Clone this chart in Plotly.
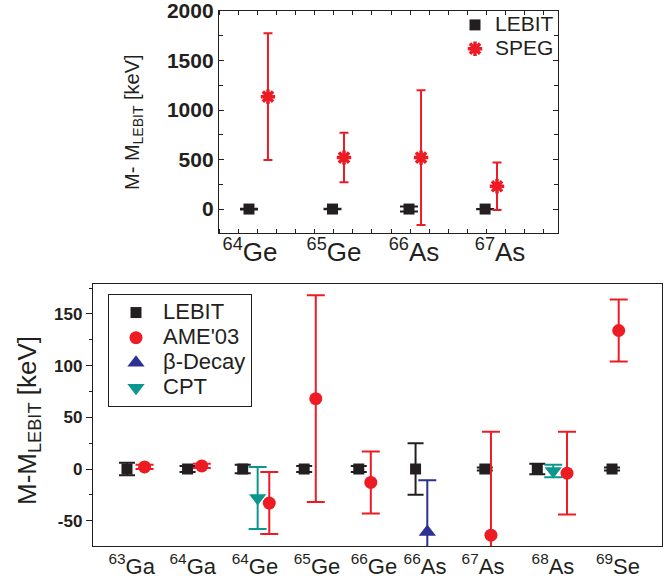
import plotly.graph_objects as go

# ---------------- top panel data (SPEG vs LEBIT) ----------------
top_labels = ["<sup>64</sup>Ge", "<sup>65</sup>Ge", "<sup>66</sup>As", "<sup>67</sup>As"]
top_label_pos = [1.013, 2.08, 3.097, 4.19]
top_lebit_x = [1.0, 2.061, 3.033, 4.0]
top_lebit_y = [0, 0, 0, 0]
top_lebit_err = [4, 3, 25, 1.5]
speg_x = [1.241, 2.207, 3.186, 4.151]
speg_y = [1135, 520, 520, 230]
speg_err = [640, 250, 680, 240]
top_yticks = [0, 500, 1000, 1500, 2000]
top_yticktext = ["0", "500", "1000", "1500", "2000"]

# ---------------- bottom panel data ----------------
bot_labels = ["<sup>63</sup>Ga", "<sup>64</sup>Ga", "<sup>64</sup>Ge", "<sup>65</sup>Ge",
              "<sup>66</sup>Ge", "<sup>66</sup>As", "<sup>67</sup>As", "<sup>68</sup>As",
              "<sup>69</sup>Se"]
bot_label_pos = [1.0, 2.005, 3.028, 4.048, 4.984, 5.824, 6.778, 7.929, 8.997]
lebit_x = [0.923, 1.919, 2.826, 3.837, 4.735, 5.669, 6.808, 7.671, 8.9]
lebit_y = [0, 0, 0, 0, 0, 0, 0, 0, 0]
lebit_err = [6, 3, 4, 3, 3, 25, 1.5, 5, 1.5]
ame_x = [1.212, 2.153, 3.263, 4.028, 4.933, 6.909, 8.16, 9.01]
ame_y = [2, 3, -33, 68, -13, -64, -4, 134]
ame_err = [2, 2, 30, 100, 30, 100, 40, 30]
beta_x = [5.862]
beta_y = [-61]
beta_err = [50]
cpt_x = [3.072, 7.933]
cpt_y = [-28, -2]
cpt_err = [30, 6]
bot_yticks = [-50, 0, 50, 100, 150]
bot_yticktext = ["-50", "0", "50", "100", "150"]

BLACK = "#231f20"
RED = "#ed1c24"
BLUE = "#2e3192"
TEAL = "#0b968f"
FONT = "Liberation Sans, Arial, sans-serif"


def big(name, px):
    return '<span style="font-size:%dpx">%s</span>' % (px, name)


fig = go.Figure()

# top panel traces
fig.add_trace(go.Scatter(
    x=top_lebit_x, y=top_lebit_y, mode="markers", name=big("LEBIT", 21),
    xaxis="x", yaxis="y", legend="legend",
    marker=dict(symbol="square", size=11, color=BLACK),
    error_y=dict(type="data", array=top_lebit_err, color=BLACK, thickness=2, width=9)))
fig.add_trace(go.Scatter(
    x=speg_x, y=speg_y, mode="markers", name=big("SPEG", 21),
    xaxis="x", yaxis="y", legend="legend",
    marker=dict(symbol="asterisk", size=12, color=RED, line=dict(color=RED, width=3.5)),
    error_y=dict(type="data", array=speg_err, color=RED, thickness=2, width=4.5)))

# bottom panel traces
fig.add_trace(go.Scatter(
    x=lebit_x, y=lebit_y, mode="markers", name=big("LEBIT", 22),
    xaxis="x2", yaxis="y2", legend="legend2",
    marker=dict(symbol="square", size=11, color=BLACK),
    error_y=dict(type="data", array=lebit_err, color=BLACK, thickness=2, width=8)))
fig.add_trace(go.Scatter(
    x=ame_x, y=ame_y, mode="markers", name=big("AME'03", 22),
    xaxis="x2", yaxis="y2", legend="legend2",
    marker=dict(symbol="circle", size=13, color=RED),
    error_y=dict(type="data", array=ame_err, color=RED, thickness=2, width=9)))
fig.add_trace(go.Scatter(
    x=beta_x, y=beta_y, mode="markers", name=big("β-Decay", 22),
    xaxis="x2", yaxis="y2", legend="legend2",
    marker=dict(symbol="triangle-up", size=15, color=BLUE),
    error_y=dict(type="data", array=beta_err, color=BLUE, thickness=2, width=9)))
fig.add_trace(go.Scatter(
    x=cpt_x, y=cpt_y, mode="markers", name=big("CPT", 22),
    xaxis="x2", yaxis="y2", legend="legend2",
    marker=dict(symbol="triangle-down", size=15, color=TEAL),
    error_y=dict(type="data", array=cpt_err, color=TEAL, thickness=2, width=9)))

W, H = 672, 582

fig.update_layout(
    width=W, height=H,
    margin=dict(l=0, r=0, t=0, b=0),
    paper_bgcolor="white", plot_bgcolor="white",
    font=dict(family=FONT, color=BLACK),
    showlegend=True,
    xaxis=dict(
        domain=[219 / W, 558 / W], anchor="y",
        range=[0.619, 4.926],
        tickmode="array", tickvals=top_label_pos, ticktext=top_labels,
        ticks="", tickfont=dict(size=26, family=FONT, color=BLACK),
        ticklabelstandoff=-4, ticklabeloverflow="allow",
        showline=True, linecolor=BLACK, linewidth=1.3, mirror="allticks",
        showgrid=False, zeroline=False, automargin=False,
        minor=dict(tick0=0.873, dtick=0.2414, ticks="inside", ticklen=4,
                   tickcolor=BLACK, showgrid=False),
    ),
    yaxis=dict(
        domain=[(H - 233) / H, (H - 11) / H], anchor="x",
        range=[-242, 2001],
        tickmode="array", tickvals=top_yticks, ticktext=top_yticktext,
        ticks="inside", ticklen=5, tickcolor=BLACK,
        tickfont=dict(size=21, family=FONT, color=BLACK, weight="bold"),
        ticklabeloverflow="allow",
        showline=True, linecolor=BLACK, linewidth=1.3, mirror="allticks",
        showgrid=False, zeroline=False, automargin=False,
        minor=dict(tick0=0, dtick=250, ticks="inside", ticklen=4,
                   tickcolor=BLACK, showgrid=False),
    ),
    xaxis2=dict(
        domain=[93 / W, 662 / W], anchor="y2",
        range=[0.364, 9.722],
        tickmode="array", tickvals=bot_label_pos, ticktext=bot_labels,
        ticks="", tickfont=dict(size=22, family=FONT, color=BLACK),
        ticklabeloverflow="allow",
        showline=True, linecolor=BLACK, linewidth=1.3, mirror=True,
        showgrid=False, zeroline=False, automargin=False,
    ),
    yaxis2=dict(
        domain=[(H - 546) / H, (H - 284) / H], anchor="x2",
        range=[-74.5, 179],
        tickmode="array", tickvals=bot_yticks, ticktext=bot_yticktext,
        ticks="outside", ticklen=6, tickcolor=BLACK,
        tickfont=dict(size=17, family=FONT, color=BLACK, weight="bold"),
        showline=True, linecolor=BLACK, linewidth=1.3, mirror=True,
        showgrid=False, zeroline=False, automargin=False,
        minor=dict(tick0=0, dtick=25, ticks="outside", ticklen=3,
                   tickcolor=BLACK, showgrid=False),
    ),
    legend=dict(
        x=455 / W, y=(H - 8) / H, xanchor="left", yanchor="top",
        bgcolor="rgba(0,0,0,0)", borderwidth=0,
        font=dict(size=16, family=FONT, color=BLACK),
    ),
    legend2=dict(
        x=108 / W, y=(H - 294) / H, xanchor="left", yanchor="top",
        bgcolor="white", bordercolor=BLACK, borderwidth=1,
        itemwidth=44,
        font=dict(size=17, family=FONT, color=BLACK),
    ),
    annotations=[
        dict(text="M- M<sub>LEBIT</sub> [keV]", textangle=-90,
             x=133 / W, y=(H - 122) / H, xref="paper", yref="paper",
             xanchor="center", yanchor="middle", showarrow=False,
             font=dict(size=20, family=FONT, color=BLACK)),
        dict(text="M-M<sub>LEBIT</sub> [keV]", textangle=-90,
             x=28 / W, y=(H - 421) / H, xref="paper", yref="paper",
             xanchor="center", yanchor="middle", showarrow=False,
             font=dict(size=26, family=FONT, color=BLACK)),
    ],
)

fig.write_html("out.html", config={"displayModeBar": False},
               post_script="document.body.style.margin='0px';")
